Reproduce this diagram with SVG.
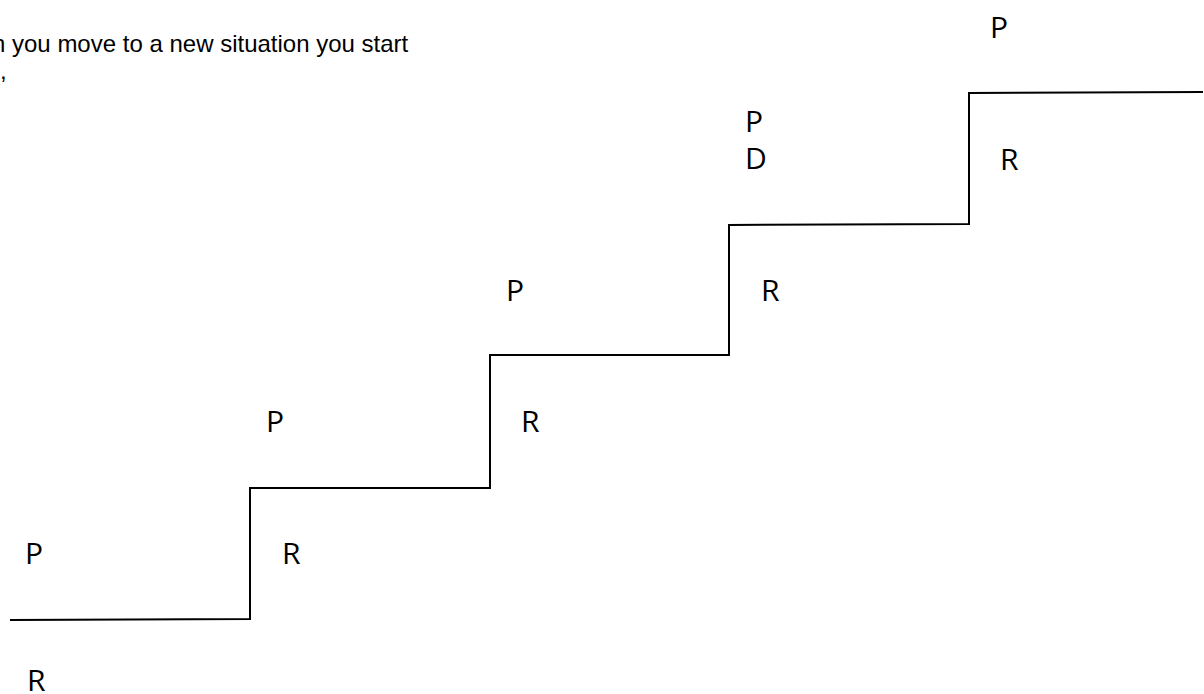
<svg xmlns="http://www.w3.org/2000/svg" width="1204" height="694" viewBox="0 0 1204 694">
  <style>
    .lbl { font-family: "Open Sans", "Noto Sans", "DejaVu Sans", sans-serif; font-size: 30px; fill: #000; }
    .cap { font-family: "Liberation Sans", Arial, sans-serif; font-size: 24px; fill: #000; }
    .stair { fill: none; stroke: #000; stroke-width: 2; stroke-linejoin: miter; }
  </style>
  <rect width="1204" height="694" fill="#fff"/>
  <g id="caption">
    <text class="cap" x="-8" y="52">n you move to a new situation you start</text>
    <text class="cap" x="0" y="79">,</text>
  </g>
  <g id="connectors">
    <polyline class="stair" points="10,620 250,619 250,488 490,488 490,355 729,355 729,225 969,224 969,93 1203,92"/>
  </g>
  <g id="step0">
    <text class="lbl" x="25" y="564">P</text>
    <text class="lbl" x="27" y="691">R</text>
  </g>
  <g id="step1">
    <text class="lbl" x="282" y="564">R</text>
    <text class="lbl" x="266" y="432">P</text>
  </g>
  <g id="step2">
    <text class="lbl" x="521" y="432">R</text>
    <text class="lbl" x="506" y="301">P</text>
  </g>
  <g id="step3">
    <text class="lbl" x="761" y="301">R</text>
    <text class="lbl" x="745" y="132">P</text>
    <text class="lbl" x="745" y="169">D</text>
  </g>
  <g id="step4">
    <text class="lbl" x="1000" y="170">R</text>
    <text class="lbl" x="990" y="38">P</text>
  </g>
</svg>
